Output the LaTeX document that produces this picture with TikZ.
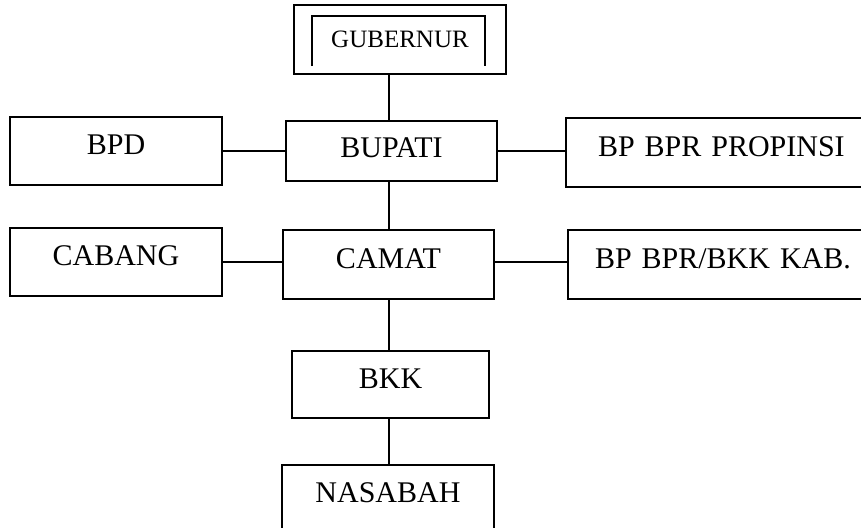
\documentclass[tikz,border=0pt]{standalone}
\usepackage{fontspec}
\setmainfont{Liberation Serif}
\usetikzlibrary{positioning, calc}
\tikzset{
    box/.style={draw=black, line width=1pt, fill=white, align=center, text depth=6pt, font=\fontsize{15}{18}\selectfont},
    widebox/.style={box, text width=130pt, align=left, minimum height=34.5pt},
    link/.style={line width=1pt, black}
}

\begin{document}
\begin{tikzpicture}[node distance=1cm]
        \clip (-195.75pt,-188pt) rectangle (234.75pt,75.5pt);
        \node [box, minimum width=105.5pt, minimum height=30pt, text depth=3pt] (bupati) {BUPATI};
        \node [box, minimum width=106pt, minimum height=34.5pt, text depth=0pt, font=\fontsize{12.5}{14}\selectfont, above=22.5pt of bupati, xshift=4.25pt] (gub) {GUBERNUR};
        \node [box, minimum width=106pt, minimum height=34pt, left=31pt of bupati] (bpd) {BPD};
        \node [widebox, inner xsep=16pt, right=33.5pt of bupati, yshift=-0.75pt] (bppro) {BP BPR PROPINSI};
        \node [box, minimum width=105.5pt, minimum height=34.5pt, below=23.5pt of bupati, xshift=-1.5pt] (camat) {CAMAT};
        \node [box, minimum width=106pt, minimum height=34pt, left=29.5pt of camat, yshift=1.25pt] (cabang) {CABANG};
        \node [widebox, inner xsep=13.5pt, right=36pt of camat] (bpkab) {BP BPR/BKK KAB.};
        \node [box, minimum width=98.5pt, minimum height=33.5pt, below=25pt of camat, xshift=1pt] (bkk) {BKK};
        \node [box, minimum width=106pt, minimum height=33.5pt, below=22.5pt of bkk, xshift=-1.25pt] (nasabah) {NASABAH};
        % inner frame of the top box
        \draw [line width=0.8pt] ($(gub.south west)+(9.5pt,4.5pt)$) -- ($(gub.north west)+(9.5pt,-6pt)$)
            -- ($(gub.north east)+(-11pt,-6pt)$) -- ($(gub.south east)+(-11pt,4.5pt)$);
        \draw [link] (bupati.north -| camat) -- (gub.south -| camat);
        \draw [link] (camat.north) -- (camat.north |- bupati.south);
        \draw [link] (camat.south) -- (camat.south |- bkk.north);
        \draw [link] (bkk.south -| camat) -- (nasabah.north -| camat);
        \draw [link] (bpd.east) -- (bpd.east -| bupati.west);
        \draw [link] (bupati.east) -- (bupati.east -| bppro.west);
        \draw [link] (cabang.east) -- (cabang.east -| camat.west);
        \draw [link] (cabang.east -| camat.east) -- (cabang.east -| bpkab.west);
    \end{tikzpicture}
\end{document}
